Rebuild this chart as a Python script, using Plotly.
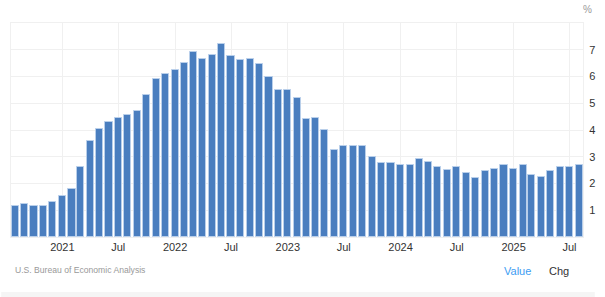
import pandas as pd
import plotly.graph_objects as go

# Monthly values, Aug 2020 .. Aug 2025 (% y/y)
start_month = "2020-08-01"
values = [1.15, 1.25, 1.15, 1.15, 1.3, 1.55, 1.8, 2.6, 3.6, 4.05, 4.3, 4.45,
          4.55, 4.7, 5.3, 5.9, 6.1, 6.25, 6.5, 6.9, 6.65, 6.8, 7.2, 6.75,
          6.6, 6.65, 6.45, 6.0, 5.5, 5.5, 5.2, 4.4, 4.45, 4.0, 3.25, 3.4,
          3.4, 3.4, 3.0, 2.75, 2.75, 2.7, 2.7, 2.9, 2.8, 2.6, 2.5, 2.6,
          2.4, 2.2, 2.45, 2.55, 2.7, 2.55, 2.7, 2.3, 2.25, 2.45, 2.6, 2.6, 2.7]
months = pd.date_range(start_month, periods=len(values), freq="MS")

x_tick_vals = ["2021-01-01", "2021-07-01", "2022-01-01", "2022-07-01", "2023-01-01",
               "2023-07-01", "2024-01-01", "2024-07-01", "2025-01-01", "2025-07-01"]
x_tick_text = ["2021", "Jul", "2022", "Jul", "2023", "Jul", "2024", "Jul", "2025", "Jul"]
y_tick_vals = [1, 2, 3, 4, 5, 6, 7]

W, H = 605, 297
L, R, T, B = 10, 12, 23, 60
pw, ph = W - L - R, H - T - B

def px(xp):
    return (xp - L) / pw

def py(yp):
    return (H - B - yp) / ph

fig = go.Figure()
fig.add_trace(go.Bar(
    x=months, y=values,
    width=23 * 86400000,
    marker=dict(color="#4a7ebf", line=dict(color="#b9cfea", width=1)),
    hoverinfo="x+y",
))

fig.update_layout(
    width=W, height=H,
    margin=dict(l=L, r=R, t=T, b=B),
    paper_bgcolor="white", plot_bgcolor="white",
    showlegend=False,
    font=dict(family="Liberation Sans, Arial, sans-serif", size=11, color="#444"),
    xaxis=dict(
        type="date",
        range=["2020-07-18 16:00", "2025-08-13 16:00"],
        tickmode="array", tickvals=x_tick_vals, ticktext=x_tick_text,
        showgrid=True, gridcolor="#f0f0f0", gridwidth=1,
        showline=True, linecolor="#f0f0f0", mirror=True,
        ticks="", tickfont=dict(size=11, color="#333"),
        zeroline=False,
    ),
    yaxis=dict(
        side="right", range=[0, 8],
        tickmode="array", tickvals=y_tick_vals,
        showgrid=True, gridcolor="#f0f0f0", gridwidth=1,
        showline=True, linecolor="#f0f0f0", mirror=True,
        ticks="", tickfont=dict(size=11, color="#333"),
        ticklabelstandoff=3,
        zeroline=False,
    ),
    bargap=0,
)

fig.add_annotation(text="%", xref="paper", yref="paper", x=px(591), y=py(9),
                   xanchor="left", yanchor="middle", showarrow=False,
                   font=dict(size=10, color="#999"))
fig.add_annotation(text="U.S. Bureau of Economic Analysis", xref="paper", yref="paper",
                   x=px(12), y=py(270), xanchor="left", yanchor="middle", showarrow=False,
                   font=dict(size=8.6, color="#999"))
fig.add_annotation(text="Value", xref="paper", yref="paper", x=px(510), y=py(271),
                   xanchor="left", yanchor="middle", showarrow=False,
                   font=dict(size=11, color="#3d9df2"))
fig.add_annotation(text="Chg", xref="paper", yref="paper", x=px(556), y=py(271),
                   xanchor="left", yanchor="middle", showarrow=False,
                   font=dict(size=11, color="#333"))
fig.add_shape(type="rect", xref="paper", yref="paper", x0=px(0), x1=px(W),
              y0=py(292), y1=py(H), fillcolor="#f5f5f5", line=dict(width=0), layer="below")

fig.write_html("out.html")
